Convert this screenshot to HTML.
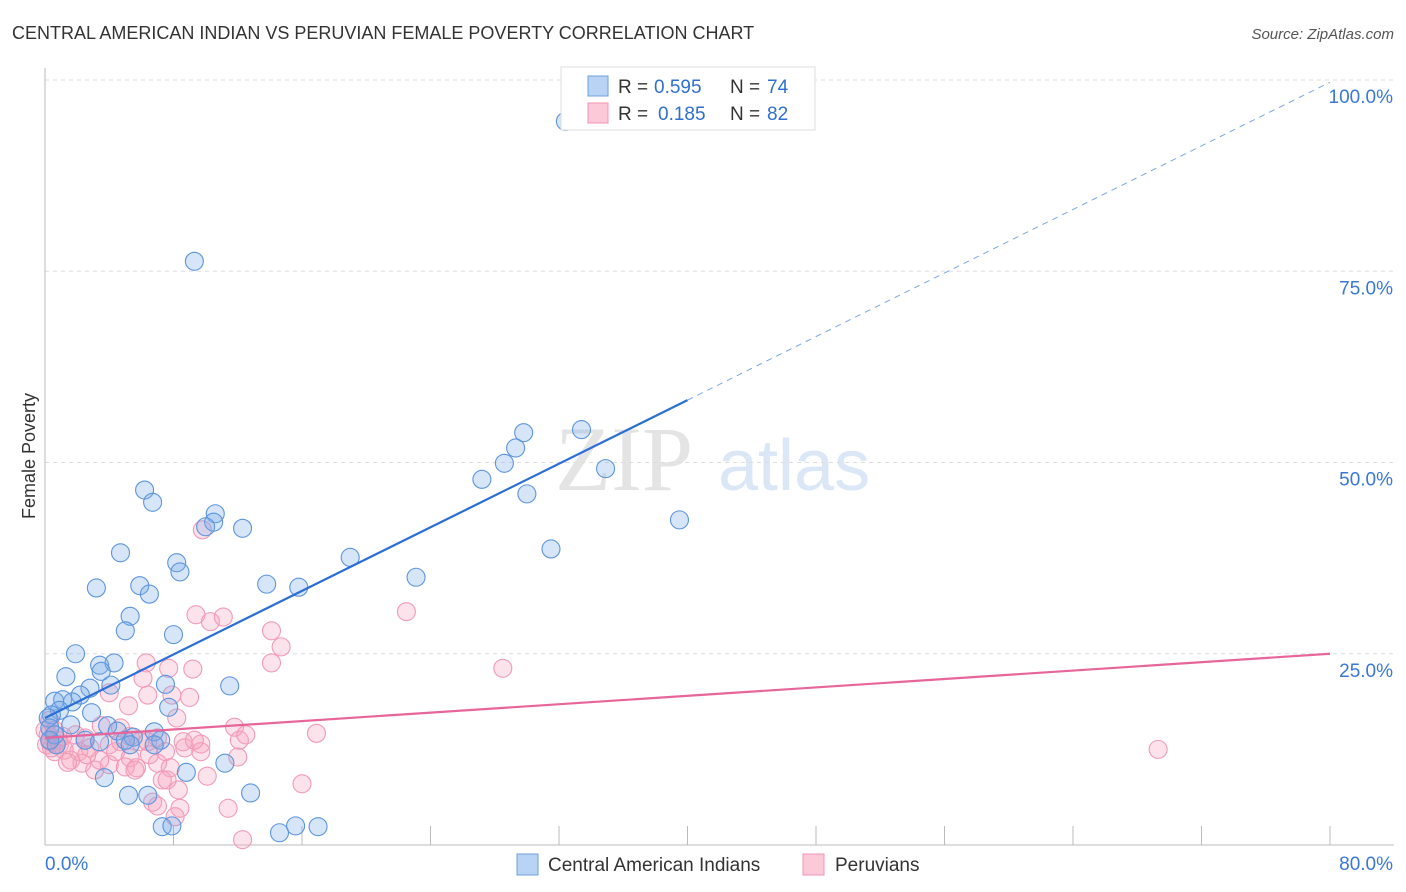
<!DOCTYPE html>
<html><head><meta charset="utf-8"><style>
body{margin:0;background:#fff;font-family:"Liberation Sans",sans-serif}
svg{display:block}
</style></head><body>
<svg id="c" width="1406" height="892">
<text x="12" y="39" font-size="18" fill="#333">CENTRAL AMERICAN INDIAN VS PERUVIAN FEMALE POVERTY CORRELATION CHART</text>
<text x="1394" y="39" font-size="15" fill="#555" font-style="italic" text-anchor="end">Source: ZipAtlas.com</text>
<text x="35" y="456" font-size="18" fill="#333" transform="rotate(-90 35 456)" text-anchor="middle">Female Poverty</text>
<g><text x="555" y="490" font-family="Liberation Serif,serif" font-size="92" fill="#e4e4e4">ZIP</text><text x="718" y="490" font-size="72" fill="#dbe7f6">atlas</text></g>
<g id="grid"></g><g id="marks"></g><g id="lines"></g>
<g>
<rect x="561" y="67" width="254" height="63" fill="#fff" stroke="#ddd"/>
<rect x="588" y="76" width="20" height="20" fill="#b8d3f3" stroke="#6fa0e0"/>
<rect x="588" y="103" width="20" height="20" fill="#fbc9d8" stroke="#f095b3"/>
<text x="618" y="93" font-size="19" fill="#333">R =</text><text x="654" y="93" font-size="19" fill="#2f6fd0">0.595</text>
<text x="730" y="93" font-size="19" fill="#333">N =</text><text x="767" y="93" font-size="19" fill="#2f6fd0">74</text>
<text x="618" y="120" font-size="19" fill="#333">R =</text><text x="658" y="120" font-size="19" fill="#2f6fd0">0.185</text>
<text x="730" y="120" font-size="19" fill="#333">N =</text><text x="767" y="120" font-size="19" fill="#2f6fd0">82</text>
</g>
<g>
<rect x="517" y="854" width="21" height="21" fill="#b8d3f3" stroke="#6fa0e0"/>
<text x="548" y="871" font-size="19" fill="#333">Central American Indians</text>
<rect x="803" y="854" width="21" height="21" fill="#fbc9d8" stroke="#f095b3"/>
<text x="835" y="871" font-size="19" fill="#333">Peruvians</text>
</g>
</svg>
<script>
const blueX=[32.4,9.3,33.4,29.8,29.3,28.6,34.9,27.2,30.0,39.5,6.2,6.7,10.6,10.5,10.0,12.3,31.5,4.7,19.0,8.2,8.4,23.1,3.2,5.9,6.5,13.8,15.8,5.3,5.0,8.0,1.9,3.4,4.3,3.5,1.3,4.1,2.8,11.5,7.5,2.2,0.6,1.1,1.7,7.7,0.9,0.4,2.9,0.2,1.6,3.9,4.5,6.8,5.5,2.5,3.4,5.0,0.3,0.6,11.2,8.8,3.7,5.2,6.4,12.8,7.3,7.9,14.6,15.6,17.0,7.2,5.3,0.7,6.8,0.3];
const blueY=[94.6,76.3,54.3,53.9,51.9,49.9,49.2,47.8,45.9,42.5,46.4,44.8,43.3,42.2,41.6,41.4,38.7,38.2,37.6,36.9,35.7,35.0,33.6,33.9,32.8,34.1,33.7,29.9,28.0,27.5,25.0,23.5,23.8,22.7,22.0,20.9,20.5,20.8,21.0,19.6,18.8,19.0,18.7,18.0,17.6,17.0,17.3,16.6,15.7,15.6,14.9,14.8,14.1,13.7,13.5,13.7,15.3,14.4,10.7,9.5,8.8,6.5,6.5,6.8,2.4,2.5,1.6,2.5,2.4,13.7,13.1,13.1,13.1,13.7];
const pinkX=[9.8,9.4,10.3,11.1,22.5,14.1,14.7,14.1,28.5,6.3,7.7,9.2,6.1,4.0,6.4,7.9,9.0,5.2,8.2,11.8,16.9,69.3,12.1,3.5,4.7,1.9,2.5,5.3,5.9,7.0,8.7,9.7,0.9,0.3,1.2,2.1,2.8,4.0,4.4,5.3,6.5,7.5,9.7,12.0,0.6,1.6,2.3,3.1,4.0,5.0,5.7,7.0,5.6,7.8,10.1,7.3,16.0,7.6,8.3,6.7,7.0,8.4,11.4,8.1,12.3,1.4,3.4,0.2,0.3,0.4,0.8,1.1,0,0.1,0.6,2.6,4.7,6.4,8.6,9.3,12.5];
const pinkY=[41.2,30.1,29.2,29.8,30.5,28.0,25.9,23.8,23.1,23.8,23.1,23.0,21.8,19.9,19.6,19.6,19.3,18.2,16.6,15.4,14.6,12.5,13.7,15.6,15.3,14.4,14.0,14.2,13.5,14.0,12.7,13.2,13.1,13.5,12.4,12.2,12.7,13.1,12.2,11.4,11.8,12.2,12.2,11.5,12.2,11.1,10.7,9.8,10.5,10.2,10.1,10.7,9.8,10.1,9.0,8.5,8.0,8.5,7.2,5.6,5.1,4.8,4.8,3.7,0.7,10.8,11.1,14.4,16.3,12.7,13.7,14.2,15.0,13.1,15.0,11.8,13.5,13.5,13.5,13.7,14.4];
const yTicks=[25,50,75,100];
const yTickLabels=["25.0%","50.0%","75.0%","100.0%"];
const xTicks=[8,16,24,32,40,48,56,64,72,80];
const blueFit=[16.6,99.7];
const pinkFit=[14.0,25.0];
const blueSolidEnd=40;
const NS="http://www.w3.org/2000/svg";
const X0=45,X1=1330,Y0=845,YT=80;
const sx=v=>X0+(X1-X0)*v/80;
const sy=v=>Y0-(Y0-YT)*v/100;
function mk(tag,attrs,parent){const e=document.createElementNS(NS,tag);for(const k in attrs)e.setAttribute(k,attrs[k]);parent.appendChild(e);return e;}
const grid=document.getElementById('grid'),marks=document.getElementById('marks'),lines=document.getElementById('lines');
yTicks.forEach((t,i)=>{
 const l=mk('line',{x1:X0,x2:1394,y1:sy(t),y2:sy(t),stroke:'#ddd','stroke-dasharray':'4,4'},grid);
 
 
 const tx=mk('text',{x:1393,y:sy(t)+23,'font-size':19,fill:'#3a78d8','text-anchor':'end'},grid);
 tx.textContent=yTickLabels[i];
 
 
});
const ax=mk('line',{x1:X0,x2:1394,y1:Y0,y2:Y0,stroke:'#bbb'},grid);


const ay=mk('line',{x1:X0,x2:X0,y1:68,y2:Y0,stroke:'#bbb'},grid);


xTicks.forEach(t=>{const l=mk('line',{x1:sx(t),x2:sx(t),y1:Y0,y2:Y0-19,stroke:'#bbb'},grid);
 
 });
const xl0=mk('text',{x:45,y:870,'font-size':19,fill:'#3a78d8'},grid);xl0.textContent='0.0%';


const xl1=mk('text',{x:1393,y:870,'font-size':19,fill:'#3a78d8','text-anchor':'end'},grid);xl1.textContent='80.0%';


pinkX.forEach((x,i)=>{const c=mk('circle',{cx:sx(x),cy:sy(pinkY[i]),r:9,fill:'rgba(245,165,190,0.32)',stroke:'#f29ab8','stroke-width':1.1},marks);
 
 });
blueX.forEach((x,i)=>{const c=mk('circle',{cx:sx(x),cy:sy(blueY[i]),r:9,fill:'rgba(120,170,232,0.3)',stroke:'#5c95dd','stroke-width':1.1},marks);
 
 });
const bAt=x=>blueFit[0]+(blueFit[1]-blueFit[0])*x/80;
const b1=mk('line',{x1:sx(0),y1:sy(bAt(0)),x2:sx(blueSolidEnd),y2:sy(bAt(blueSolidEnd)),stroke:'#2a6fd6','stroke-width':2.2},lines);


const b2=mk('line',{x1:sx(blueSolidEnd),y1:sy(bAt(blueSolidEnd)),x2:sx(80),y2:sy(bAt(80)),stroke:'#7aa6e6','stroke-width':1,'stroke-dasharray':'6,5'},lines);


const p1=mk('line',{x1:sx(0),y1:sy(pinkFit[0]),x2:sx(80),y2:sy(pinkFit[1]),stroke:'#e8659a','stroke-width':2.2},lines);


</script>
</body></html>
